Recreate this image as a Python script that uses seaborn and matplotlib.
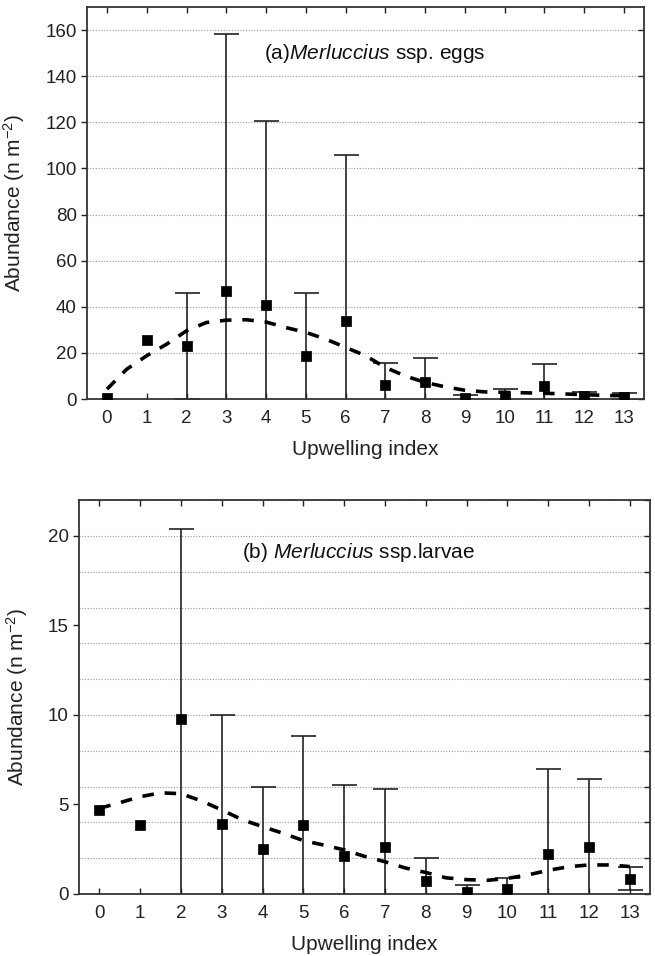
import numpy as np
import matplotlib
matplotlib.use("Agg")
import matplotlib.pyplot as plt
from matplotlib.ticker import MultipleLocator
from matplotlib import font_manager
import seaborn as sns

# upwelling index classes
upw = [0, 1, 2, 3, 4, 5, 6, 7, 8, 9, 10, 11, 12, 13]

# (a) eggs: mean abundance and upper end of error bar (nan = no bar)
eggs_mean = [0.5, 25.5, 23, 47, 41, 18.5, 34, 6.3, 7.5, 0.5, 1.5, 5.8, 1.5, 1.0]
eggs_upper = [np.nan, np.nan, 46, 158.5, 120.5, 46, 106, 15.5, 18, 1.8, 4.4, 15.3, 2.9, 2.5]

# (b) larvae
larv_mean = [4.7, 3.85, 9.8, 3.9, 2.5, 3.85, 2.1, 2.6, 0.7, 0.1, 0.25, 2.25, 2.65, 0.85]
larv_upper = [np.nan, np.nan, 20.4, 10, 6.0, 8.85, 6.07, 5.85, 2.02, 0.48, 0.9, 7.0, 6.42, 1.5]

# smoothed fit curves, read every half unit
fit_x = [0, 0.5, 1, 1.5, 2, 2.5, 3, 3.5, 4, 4.5, 5, 5.5, 6, 6.5, 7, 7.5, 8, 8.5, 9,
         9.5, 10, 10.5, 11, 11.5, 12, 12.5, 13]
eggs_fit = [4.3, 13, 18.8, 23.8, 29.6, 33.2, 34.2, 34.4, 33.4, 31.0, 28.9, 26.0, 22.4, 18.8,
            13.7, 10.0, 7.2, 5.3, 3.8, 3.1, 2.9, 2.7, 2.5, 2.2, 1.9, 1.6, 1.4]
larv_fit = [4.78, 5.1, 5.43, 5.65, 5.6, 5.2, 4.69, 4.15, 3.76, 3.39, 2.98, 2.73, 2.46, 2.1,
            1.8, 1.45, 1.2, 0.9, 0.8, 0.76, 0.87, 1.06, 1.32, 1.52, 1.62, 1.62, 1.53]

sns.set_style("white")
names = {f.name for f in font_manager.fontManager.ttflist}
fam = 'Liberation Sans Narrow' if 'Liberation Sans Narrow' in names else 'Liberation Sans'
narrow = fam == 'Liberation Sans Narrow'
fs = 15 if narrow else 13.5
plt.rcParams['font.family'] = [fam, 'DejaVu Sans']
plt.rcParams['mathtext.fontset'] = 'custom'
plt.rcParams['mathtext.rm'] = fam
plt.rcParams['mathtext.it'] = fam + ':italic'

fig = plt.figure(figsize=(6.55, 9.56), dpi=100)
ax1 = fig.add_axes([0.133, 0.5826, 0.850, 0.410])
ax2 = fig.add_axes([0.1206, 0.0649, 0.872, 0.412])


def panel(ax, mean, upper, fit, ylim, major, grid_step, title, tx, ty, ylab_x):
    mean = np.array(mean, dtype=float)
    upper = np.array(upper, dtype=float)
    x = np.array(upw)
    has = ~np.isnan(upper)
    err = upper[has] - mean[has]
    ax.errorbar(x[has], mean[has], yerr=err, fmt='none', ecolor='#222222',
                elinewidth=1.2, capsize=9, capthick=1.2, zorder=2)
    sns.lineplot(x=fit_x, y=fit, ax=ax, color='black', lw=2.6,
                 linestyle=(0, (3.2, 3.0)), zorder=3)
    sns.scatterplot(x=upw, y=mean, ax=ax, marker='s', s=42, color='black',
                    edgecolor='black', zorder=4)
    ax.set_xlim(-0.5, 13.5)
    ax.set_ylim(*ylim)
    ax.set_xticks(upw)
    ax.yaxis.set_major_locator(MultipleLocator(major))
    ax.yaxis.set_minor_locator(MultipleLocator(grid_step))
    ax.yaxis.remove_overlapping_locs = False
    ax.grid(which='minor', axis='y', color='#999999', ls=(0, (1, 1.5)), lw=0.8)
    ax.grid(which='major', axis='y', visible=False)
    ax.tick_params(axis='y', which='major', left=True, right=False, direction='out',
                   length=4, width=1, labelsize=fs, colors='#222222')
    ax.tick_params(axis='y', which='minor', left=False, right=True, direction='in',
                   length=4, width=1)
    ax.tick_params(axis='x', which='major', bottom=True, top=True, direction='in',
                   length=4, width=1, labelsize=fs, colors='#222222', pad=8)
    for s in ax.spines.values():
        s.set_color('#333333')
        s.set_linewidth(1.3)
    ax.set_xlabel('Upwelling index', fontsize=fs + 1.5, color='#222222')
    ax.set_ylabel(r'Abundance (n m$^{\mathrm{-2}}$)', fontsize=fs + 1.5, color='#222222')
    ax.yaxis.set_label_coords(ylab_x, 0.5)
    ax.xaxis.set_label_coords(0.5, -0.105)
    ax.text(tx, ty, title, fontsize=fs + 1.5, va='center', ha='left', color='#111111')


panel(ax1, eggs_mean, eggs_upper, eggs_fit, (0, 170), 20, 20,
      r'(a)$\mathit{Merluccius}$ ssp. eggs', 3.95, 150, -0.108)
panel(ax2, larv_mean, larv_upper, larv_fit, (0, 22), 5, 2,
      r'(b) $\mathit{Merluccius}$ ssp.larvae', 3.5, 19.1, -0.086)

fig.savefig('out.png', dpi=100)
